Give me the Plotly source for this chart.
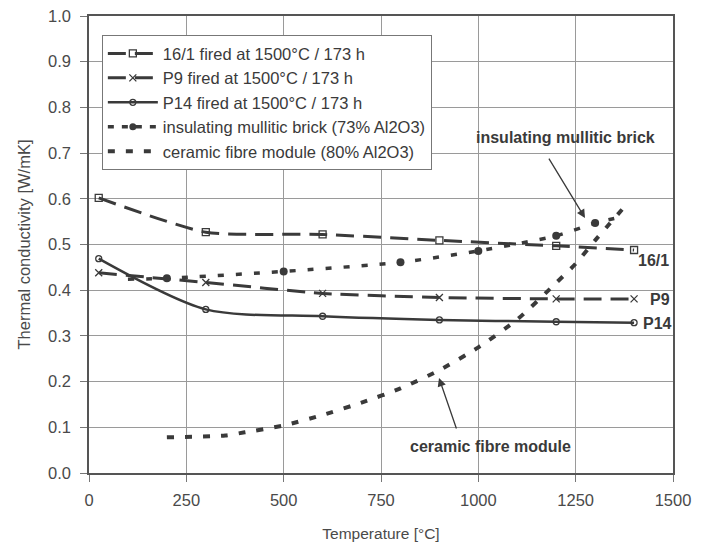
import plotly.graph_objects as go

# ---- data ----
t_161 = [25, 300, 600, 900, 1200, 1400]
k_161 = [0.602, 0.527, 0.522, 0.509, 0.497, 0.488]

t_p9 = [25, 300, 600, 900, 1200, 1400]
k_p9 = [0.438, 0.417, 0.393, 0.384, 0.381, 0.381]

t_p14 = [25, 300, 600, 900, 1200, 1400]
k_p14 = [0.469, 0.358, 0.343, 0.335, 0.331, 0.329]

t_brick = [100, 200, 500, 800, 1000, 1200, 1300, 1360]
k_brick = [0.424, 0.426, 0.441, 0.461, 0.486, 0.519, 0.547, 0.559]
t_brick_mk = [200, 500, 800, 1000, 1200, 1300]
k_brick_mk = [0.426, 0.441, 0.461, 0.486, 0.519, 0.547]

t_fibre = [200, 350, 400, 500, 600, 700, 800, 900, 1000, 1100, 1200, 1250, 1300, 1385]
k_fibre = [0.078, 0.082, 0.089, 0.104, 0.127, 0.154, 0.185, 0.225, 0.275, 0.336, 0.416, 0.458, 0.509, 0.592]

names = ["16/1 fired at 1500°C / 173 h", "P9 fired at 1500°C / 173 h",
         "P14 fired at 1500°C / 173 h", "insulating mullitic brick (73% Al2O3)",
         "ceramic fibre module (80% Al2O3)"]

ink = "#3a3a3a"
font_fam = "Liberation Sans, Arial, sans-serif"

fig = go.Figure()
fig.add_trace(go.Scatter(x=t_161, y=k_161, name=names[0], mode="lines+markers",
                         line=dict(color=ink, width=3, dash="18px,9px", shape="spline", smoothing=0.6),
                         marker=dict(symbol="square-open", size=7, color=ink, line=dict(width=1.3))))
fig.add_trace(go.Scatter(x=t_p9, y=k_p9, name=names[1], mode="lines+markers",
                         line=dict(color=ink, width=3, dash="18px,9px", shape="spline", smoothing=0.6),
                         marker=dict(symbol="x-thin-open", size=7, color=ink, line=dict(width=1.3))))
fig.add_trace(go.Scatter(x=t_p14, y=k_p14, name=names[2], mode="lines+markers",
                         line=dict(color=ink, width=2.5, shape="spline", smoothing=0.8),
                         marker=dict(symbol="circle-open", size=6, color=ink, line=dict(width=1.3))))
fig.add_trace(go.Scatter(x=t_brick, y=k_brick, name=names[3], mode="lines",
                         line=dict(color=ink, width=3.5, dash="6px,12px", shape="spline", smoothing=0.6),
                         showlegend=False))
fig.add_trace(go.Scatter(x=t_brick_mk, y=k_brick_mk, name=names[3], mode="markers",
                         marker=dict(symbol="circle", size=8, color=ink),
                         showlegend=False))
fig.add_trace(go.Scatter(x=[None], y=[None], name=names[3], mode="lines+markers",
                         line=dict(color=ink, width=3.5, dash="6px,8px"),
                         marker=dict(symbol="circle", size=7, color=ink)))
fig.add_trace(go.Scatter(x=t_fibre, y=k_fibre, name=names[4], mode="lines",
                         line=dict(color=ink, width=4, dash="7px,11px", shape="spline", smoothing=0.6)))

# annotations
fig.add_annotation(x=1223, y=0.735, text="<b>insulating mullitic brick</b>", showarrow=False,
                   font=dict(size=16, color=ink, family=font_fam))
fig.add_annotation(x=1274, y=0.558, ax=1179, ay=0.691, xref="x", yref="y", axref="x", ayref="y",
                   text="", showarrow=True, arrowhead=2, arrowsize=1.3, arrowwidth=1.3, arrowcolor=ink)
fig.add_annotation(x=1030, y=0.057, text="<b>ceramic fibre module</b>", showarrow=False,
                   font=dict(size=16, color=ink, family=font_fam))
fig.add_annotation(x=899, y=0.208, ax=945, ay=0.094, xref="x", yref="y", axref="x", ayref="y",
                   text="", showarrow=True, arrowhead=2, arrowsize=1.3, arrowwidth=1.3, arrowcolor=ink)
for lbl, xx, yy in [("16/1", 1405, 0.466), ("P9", 1436, 0.379), ("P14", 1418, 0.328)]:
    fig.add_annotation(x=xx, y=yy, text="<b>" + lbl + "</b>", showarrow=False, xanchor="left",
                       font=dict(size=16, color=ink, family=font_fam))

fig.update_layout(
    width=708, height=545,
    margin=dict(l=81, r=43, t=8, b=80),
    paper_bgcolor="white", plot_bgcolor="white",
    font=dict(family=font_fam, size=16, color="#4a4a4a"),
    legend=dict(x=0.022, y=0.958, xanchor="left", yanchor="top",
                bgcolor="white", bordercolor="#777", borderwidth=1,
                font=dict(size=16.5, color=ink), itemwidth=50, tracegroupgap=0),
    showlegend=True,
)
fig.update_xaxes(range=[0, 1500], dtick=250, tick0=0, automargin=False,
                 showgrid=True, gridcolor="#9a9a9a", gridwidth=1,
                 showline=True, linecolor="#555", linewidth=1.5, mirror=True,
                 ticks="outside", ticklen=7, tickcolor="#777", ticklabelstandoff=4,
                 ticklabeloverflow="allow",
                 tickfont=dict(size=16.5, color="#4a4a4a"),
                 title=dict(text="Temperature [°C]", font=dict(size=15.5), standoff=21),
                 zeroline=False)
fig.update_yaxes(range=[0, 1.0], dtick=0.1, tickformat=".1f", automargin=False,
                 showgrid=True, gridcolor="#9a9a9a", gridwidth=1,
                 showline=True, linecolor="#555", linewidth=1.5, mirror=True,
                 ticks="outside", ticklen=7, tickcolor="#777", ticklabelstandoff=6,
                 ticklabeloverflow="allow",
                 tickfont=dict(size=16.5, color="#4a4a4a"),
                 title=dict(text="Thermal conductivity [W/mK]", font=dict(size=16.5), standoff=13),
                 zeroline=False)

fig.write_html("out.html")
